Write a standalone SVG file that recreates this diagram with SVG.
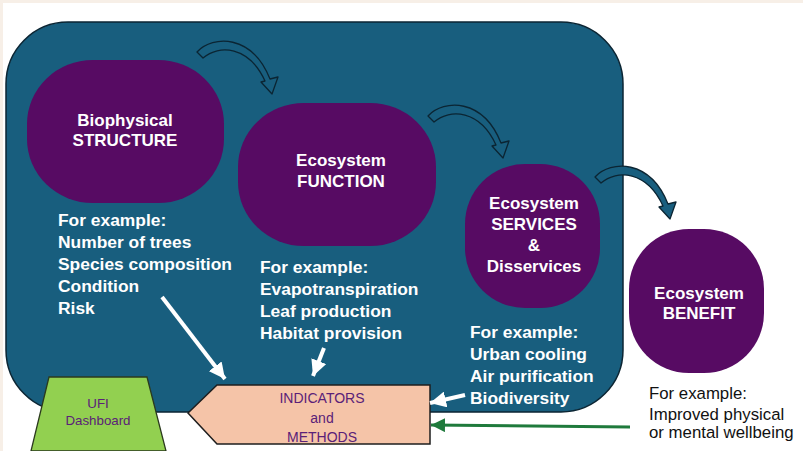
<svg xmlns="http://www.w3.org/2000/svg" width="803" height="451" viewBox="0 0 803 451">
<style>
.node{fill:#570b63;}
.title{font-family:"Liberation Sans",Arial,sans-serif;font-weight:bold;font-size:17px;fill:#ffffff;text-anchor:middle;}
.ex{font-family:"Liberation Sans",Arial,sans-serif;font-weight:bold;font-size:17.4px;fill:#ffffff;}
.exb{font-family:"Liberation Sans",Arial,sans-serif;font-size:16.8px;fill:#111111;}
.box{font-family:"Liberation Sans",Arial,sans-serif;font-size:14px;fill:#5a2178;text-anchor:middle;}
.warrow{stroke:#ffffff;stroke-width:4;fill:none;marker-end:url(#wh);}
.curve{fill:#185e7e;stroke:#0b2533;stroke-width:1.3;stroke-linejoin:round;}
</style>
<defs>
<marker id="wh" markerUnits="userSpaceOnUse" markerWidth="18" markerHeight="16" refX="16" refY="8" orient="auto">
<path d="M0,0 L16,8 L0,16 z" fill="#ffffff"/>
</marker>
<marker id="gh" markerUnits="userSpaceOnUse" markerWidth="16" markerHeight="14" refX="14" refY="7" orient="auto">
<path d="M0,0 L14,7 L0,14 z" fill="#1f7a3c"/>
</marker>
<path id="carrow" d="M197,52 C213,35 252,34 270,79 L278,77 L272,94 L261,82 L265,81 C249,46 219,44 203,58 Z"/>
</defs>
<rect x="0" y="0" width="803" height="451" fill="#f7efe7"/>
<rect x="3" y="3" width="800" height="448" fill="#ffffff"/>
<g id="panel">
<rect x="6" y="22" width="617" height="390" rx="62" ry="62" fill="#185e7e" stroke="#0b2533" stroke-width="1.5"/>
</g>
<g id="structure">
<rect class="node" x="27" y="60" width="197" height="143" rx="66" ry="64"/>
<text class="title" x="125" y="126">Biophysical</text>
<text class="title" x="125" y="146">STRUCTURE</text>
<text class="ex" x="58" y="226">For example:</text>
<text class="ex" x="58" y="248">Number of trees</text>
<text class="ex" x="58" y="270">Species composition</text>
<text class="ex" x="58" y="292">Condition</text>
<text class="ex" x="58" y="314">Risk</text>
</g>
<g id="function">
<rect class="node" x="238" y="103" width="198" height="143" rx="66" ry="64"/>
<text class="title" x="341" y="166">Ecosystem</text>
<text class="title" x="341" y="187">FUNCTION</text>
<text class="ex" x="260" y="273">For example:</text>
<text class="ex" x="260" y="295">Evapotranspiration</text>
<text class="ex" x="260" y="317">Leaf production</text>
<text class="ex" x="260" y="339">Habitat provision</text>
</g>
<g id="services">
<rect class="node" x="465" y="164" width="135" height="144" rx="60" ry="60"/>
<text class="title" x="534" y="209">Ecosystem</text>
<text class="title" x="534" y="230">SERVICES</text>
<text class="title" x="534" y="251">&amp;</text>
<text class="title" x="534" y="272">Disservices</text>
<text class="ex" x="470" y="338">For example:</text>
<text class="ex" x="470" y="360">Urban cooling</text>
<text class="ex" x="470" y="382">Air purification</text>
<text class="ex" x="470" y="404">Biodiversity</text>
</g>
<g id="benefit">
<rect class="node" x="629" y="229" width="135" height="144" rx="60" ry="60"/>
<text class="title" x="699" y="299">Ecosystem</text>
<text class="title" x="699" y="319">BENEFIT</text>
<text class="exb" x="649" y="399">For example:</text>
<text class="exb" x="649" y="420">Improved physical</text>
<text class="exb" x="649" y="438">or mental wellbeing</text>
</g>
<g id="dashboard">
<polygon points="49,377 147,377 166,451 31,451" fill="#92d050" stroke="#2b3a1e" stroke-width="1.3"/>
<text class="box" x="98" y="408" style="font-size:13.3px">UFI</text>
<text class="box" x="98" y="425" style="font-size:13.3px">Dashboard</text>
</g>
<g id="indicators">
<polygon points="188,413 217,385 430,385 430,444 217,444" fill="#f5c4a8" stroke="#1e1e1e" stroke-width="1.5"/>
<text class="box" x="322" y="403">INDICATORS</text>
<text class="box" x="322" y="423">and</text>
<text class="box" x="322" y="442">METHODS</text>
</g>
<g id="connectors">
<use href="#carrow" class="curve"/>
<use href="#carrow" class="curve" transform="translate(231,64)"/>
<use href="#carrow" class="curve" transform="translate(398,125)"/>
<line class="warrow" x1="162" y1="297" x2="225" y2="379"/>
<line class="warrow" x1="324" y1="348" x2="313" y2="376"/>
<line class="warrow" x1="465" y1="395" x2="430" y2="403"/>
<line x1="630" y1="427" x2="431" y2="425" stroke="#1f7a3c" stroke-width="3" marker-end="url(#gh)"/>
</g>
</svg>
